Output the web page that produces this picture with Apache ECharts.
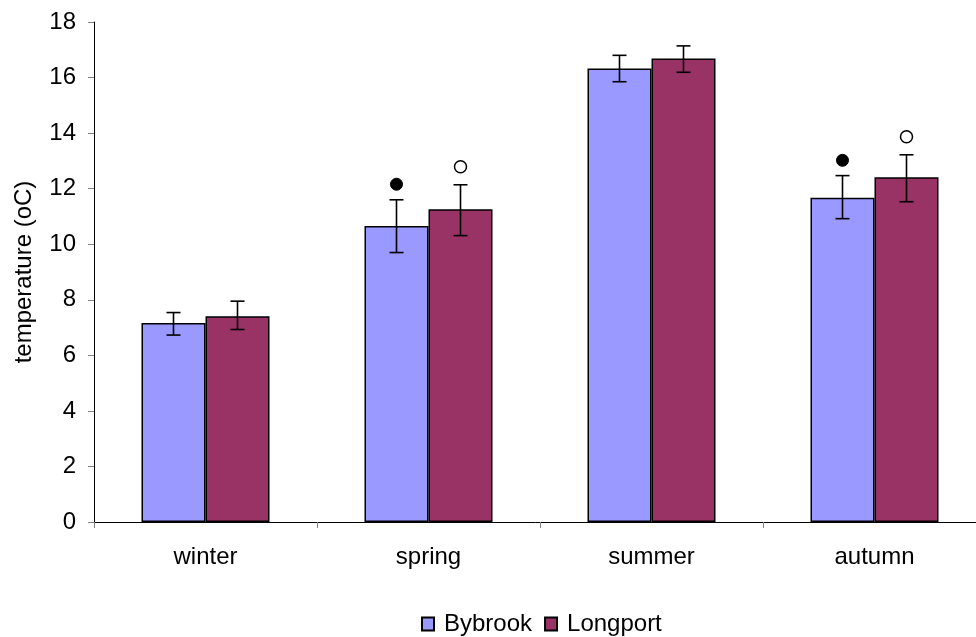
<!DOCTYPE html>
<html>
<head>
<meta charset="utf-8">
<script src="https://cdn.jsdelivr.net/npm/echarts@6/dist/echarts.min.js"></script>
<style>html,body{margin:0;padding:0;background:#fff}#c{width:976px;height:637px}</style>
</head>
<body>
<div id="c"></div>
<script>
const categories = ['winter', 'spring', 'summer', 'autumn'];
const seriesNames = ['Bybrook', 'Longport'];
const bybrook = [7.16, 10.66, 16.33, 11.67];
const longport = [7.41, 11.26, 16.69, 12.41];
const bybrookHigh = [7.54, 11.60, 16.80, 12.47];
const bybrookLow = [6.73, 9.70, 15.85, 10.92];
const longportHigh = [7.95, 12.14, 17.14, 13.22];
const longportLow = [6.93, 10.31, 16.19, 11.53];
// significance markers: [categoryIndex, value]
const filledMarkers = [[1, 12.16], [3, 13.02]];   // above Bybrook
const openMarkers = [[1, 12.79], [3, 13.87]];     // above Longport
const yTicks = { min: 0, max: 18, interval: 2 };

const GAP = 0.426;
const FONT = 'Liberation Sans, Arial, sans-serif';
const FS = 24;

function barX(api, cat, side) {
  const c = api.coord([cat, 0]);
  const catW = api.size([1, 0])[0];
  const bw = catW * (1 - GAP) / 2;
  return c[0] + side * bw / 2;
}

function errorSeries(high, low, side) {
  return {
    type: 'custom',
    silent: true,
    clip: false,
    z: 5,
    data: categories.map((_, i) => [i, high[i], low[i]]),
    encode: { x: 0, y: [1, 2] },
    renderItem: function (params, api) {
      const cat = api.value(0);
      const x = barX(api, cat, side);
      const yh = api.coord([cat, api.value(1)])[1];
      const yl = api.coord([cat, api.value(2)])[1];
      const cap = 7;
      const st = { stroke: '#000', lineWidth: 1.6 };
      return {
        type: 'group',
        children: [
          { type: 'line', shape: { x1: x, y1: yh, x2: x, y2: yl }, style: st },
          { type: 'line', shape: { x1: x - cap, y1: yh, x2: x + cap, y2: yh }, style: st },
          { type: 'line', shape: { x1: x - cap, y1: yl, x2: x + cap, y2: yl }, style: st }
        ]
      };
    }
  };
}

function markerSeries(points, side, filled) {
  return {
    type: 'custom',
    silent: true,
    clip: false,
    z: 6,
    data: points,
    encode: { x: 0, y: 1 },
    renderItem: function (params, api) {
      const cat = api.value(0);
      const x = barX(api, cat, side);
      const y = api.coord([cat, api.value(1)])[1];
      return {
        type: 'circle',
        shape: { cx: x, cy: y, r: 6 },
        style: filled ? { fill: '#000', stroke: '#000', lineWidth: 1 } : { fill: '#fff', stroke: '#000', lineWidth: 1.5 }
      };
    }
  };
}

const chart = echarts.init(document.getElementById('c'), null, { renderer: 'canvas' });
chart.setOption({
  animation: false,
  backgroundColor: '#fff',
  textStyle: { fontFamily: FONT },
  grid: { left: 94, top: 22, width: 892, bottom: 115, containLabel: false, outerBoundsMode: 'none' },
  legend: {
    data: seriesNames,
    left: 416,
    top: 607,
    icon: 'rect',
    itemWidth: 12,
    itemHeight: 13,
    itemGap: 12,
    textStyle: { fontFamily: FONT, fontSize: FS, color: '#000', padding: [0, 0, 0, 5] }
  },
  xAxis: {
    type: 'category',
    data: categories,
    axisLine: { lineStyle: { color: '#000', width: 1 } },
    axisTick: { show: true, length: 6, lineStyle: { color: '#808080' } },
    axisLabel: { color: '#000', fontSize: FS, fontFamily: FONT, margin: 23 },
    splitLine: { show: false }
  },
  yAxis: {
    type: 'value',
    min: yTicks.min,
    max: yTicks.max,
    interval: yTicks.interval,
    name: 'temperature (oC)',
    nameLocation: 'middle',
    nameGap: 58,
    nameTextStyle: { color: '#000', fontSize: FS, fontFamily: FONT },
    axisLine: { show: true, lineStyle: { color: '#000', width: 1 } },
    axisTick: { show: true, length: 6, lineStyle: { color: '#808080' } },
    axisLabel: { color: '#000', fontSize: FS, fontFamily: FONT, margin: 18 },
    splitLine: { show: false }
  },
  series: [
    {
      name: seriesNames[0], type: 'bar', data: bybrook,
      barGap: '0%', barCategoryGap: (GAP * 100) + '%',
      itemStyle: { color: '#9999FF', borderColor: '#000', borderWidth: 1.5 }
    },
    {
      name: seriesNames[1], type: 'bar', data: longport,
      barGap: '0%', barCategoryGap: (GAP * 100) + '%',
      itemStyle: { color: '#993366', borderColor: '#000', borderWidth: 1.5 }
    },
    errorSeries(bybrookHigh, bybrookLow, -1),
    errorSeries(longportHigh, longportLow, 1),
    markerSeries(filledMarkers, -1, true),
    markerSeries(openMarkers, 1, false)
  ]
});
</script>
</body>
</html>
